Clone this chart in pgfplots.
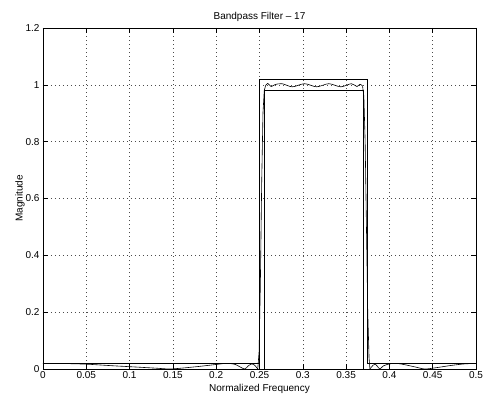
\documentclass[border=0pt]{standalone}
\usepackage{fontspec}
\setmainfont{Liberation Sans}
\usepackage{pgfplots}
\pgfplotsset{compat=1.18}
\begin{document}
\begin{tikzpicture}
\path[use as bounding box] (-43pt,-28pt) rectangle (442pt,369pt);
\begin{axis}[
  at={(0,0)}, anchor=south west,
  scale only axis, width=433pt, height=341pt,
  xmin=0, xmax=0.5, ymin=0, ymax=1.2,
  xtick={0,0.05,0.1,0.15,0.2,0.25,0.3,0.35,0.4,0.45,0.5},
  xticklabels={0,0.05,0.1,0.15,0.2,0.25,0.3,0.35,0.4,0.45,0.5},
  ytick={0,0.2,0.4,0.6,0.8,1,1.2},
  yticklabels={0,0.2,0.4,0.6,0.8,1,1.2},
  tick align=inside, major tick length=5pt,
  tick style={black, line width=0.5pt},
  axis line style={black, line width=0.6pt},
  grid=major, grid style={black!70, line width=0.5pt, dash pattern=on 0.6pt off 3.4pt},
  ticklabel style={font=\fontsize{10}{12}\selectfont},
  xticklabel style={yshift=1pt},
  label style={font=\fontsize{10}{12}\selectfont},
  xlabel={Normalized Frequency}, ylabel={Magnitude},
  xlabel style={yshift=1pt},
  ylabel style={yshift=-6pt},
  title={Bandpass Filter \textendash\ 17},
  title style={font=\fontsize{10}{12}\selectfont, yshift=-3pt},
]
% stopband / upper mask
\addplot[black, line width=0.6pt] coordinates {
(0,0.02) (0.25,0.02) (0.25,1.02) (0.375,1.02) (0.375,0.02) (0.5,0.02)};
% lower passband mask
\addplot[black, line width=0.6pt] coordinates {
(0.256,0) (0.256,0.98) (0.37,0.98) (0.37,0)};
% filter response
\addplot[black, line width=0.6pt, smooth, tension=0.4] coordinates {
(0,0.02) (0.02,0.0195) (0.05,0.017) (0.08,0.0115) (0.11,0.0065) (0.13,0.003) (0.146,0.0)
(0.16,0.003) (0.18,0.009) (0.2,0.016) (0.212,0.02) (0.222,0.016) (0.2326,0.0)
(0.237,0.011) (0.241,0.018) (0.2445,0.013) (0.248,0.0)
};
\addplot[black, line width=0.6pt] coordinates {
(0.248,0.0) (0.2495,0.06) (0.251,0.3) (0.2525,0.65) (0.254,0.9) (0.2555,0.98) (0.257,0.997)
};
\addplot[black, line width=0.6pt, smooth, tension=0.5] coordinates {
(0.257,0.997) (0.2595,1.005) (0.2635,0.994) (0.268,1.001) (0.276,1.004)
(0.288,0.993) (0.302,1.004) (0.316,0.993) (0.33,1.004) (0.344,0.993)
(0.356,1.004) (0.3625,0.994) (0.366,1.002) (0.369,0.996)
};
\addplot[black, line width=0.6pt] coordinates {
(0.369,0.996) (0.3705,0.96) (0.372,0.8) (0.3735,0.5) (0.375,0.2) (0.3765,0.04) (0.3775,0.0)
};
\addplot[black, line width=0.6pt, smooth, tension=0.4] coordinates {
(0.3775,0.0) (0.381,0.013) (0.3835,0.017) (0.386,0.01) (0.389,0.0)
(0.393,0.011) (0.4,0.018) (0.408,0.02) (0.418,0.015) (0.43,0.007) (0.441,0.0)
(0.455,0.005) (0.47,0.012) (0.485,0.0175) (0.5,0.02)
};
\end{axis}
\end{tikzpicture}
\end{document}
